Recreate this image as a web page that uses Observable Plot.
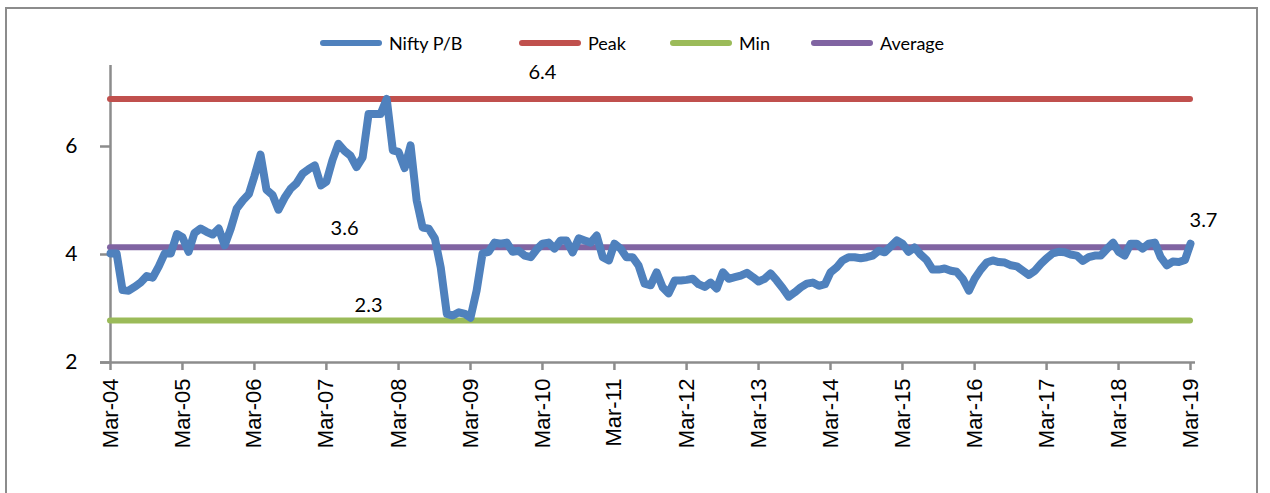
<!DOCTYPE html>
<html>
<head>
<meta charset="utf-8">
<script src="https://cdn.jsdelivr.net/npm/d3@7"></script>
<script src="https://cdn.jsdelivr.net/npm/@observablehq/plot@0.6"></script>
<style>
  html, body { margin: 0; padding: 0; background: #fff; overflow: hidden; }
  #wrap { position: relative; width: 1270px; height: 493px; }
  #frame { position: absolute; left: 5px; top: 7px; width: 1253px; height: 520px; border: 2px solid #8c8c8c; box-sizing: border-box; }
  #chart { position: absolute; left: 0; top: 0; }
  #legend { position: absolute; top: 31px; left: 0; width: 1270px; height: 24px; font-family: Lato, "Open Sans", sans-serif; font-size: 18px; color: #000; }
  .item { position: absolute; top: 0; display: flex; align-items: center; height: 24px; }
  .swatch { display: inline-block; width: 62px; height: 6px; border-radius: 3px; margin-right: 7px; }
</style>
</head>
<body>
<div id="wrap">
  <div id="frame"></div>
  <div id="chart"></div>
  <div id="legend"></div>
</div>
<script>
// ---- Data ----
const startYear = 2004, startMonth = 2; // March 2004, monthly points
const niftyPB = [
  4.02, 4.02, 3.34, 3.33, 3.40, 3.48, 3.60, 3.57, 3.78, 4.02,
  4.02, 4.38, 4.32, 4.05, 4.40, 4.48, 4.42, 4.37, 4.48, 4.17,
  4.48, 4.85, 5.00, 5.12, 5.45, 5.85, 5.20, 5.10, 4.83, 5.05,
  5.22, 5.32, 5.50, 5.58, 5.65, 5.28, 5.35, 5.75, 6.05, 5.92,
  5.83, 5.62, 5.80, 6.60, 6.60, 6.60, 6.88, 5.93, 5.90, 5.60,
  6.02, 5.00, 4.50, 4.48, 4.30, 3.76, 2.90, 2.87, 2.93, 2.90,
  2.83, 3.33, 4.02, 4.05, 4.22, 4.20, 4.22, 4.05, 4.07, 3.98,
  3.95, 4.10, 4.20, 4.22, 4.11, 4.26, 4.26, 4.04, 4.30, 4.26,
  4.22, 4.35, 3.95, 3.89, 4.20, 4.11, 3.95, 3.95, 3.80, 3.46,
  3.43, 3.67, 3.39, 3.28, 3.52, 3.52, 3.53, 3.55, 3.45, 3.40,
  3.48, 3.37, 3.67, 3.55, 3.58, 3.61, 3.66, 3.58, 3.50, 3.55,
  3.65, 3.52, 3.38, 3.22, 3.30, 3.39, 3.46, 3.48, 3.42, 3.45,
  3.67, 3.76, 3.89, 3.95, 3.95, 3.93, 3.95, 3.98, 4.07, 4.04,
  4.15, 4.26, 4.20, 4.05, 4.13, 4.00, 3.90, 3.72, 3.72, 3.74,
  3.70, 3.68, 3.55, 3.33, 3.55, 3.72, 3.85, 3.89, 3.86, 3.85,
  3.80, 3.78, 3.70, 3.62, 3.70, 3.83, 3.93, 4.02, 4.05, 4.04,
  4.00, 3.98, 3.88, 3.95, 3.98, 3.98, 4.10, 4.22, 4.05, 3.98,
  4.20, 4.20, 4.11, 4.20, 4.22, 3.95, 3.80, 3.87, 3.86, 3.90,
  4.20
];
const peakValue = [6.88];
const minValue = [2.78];
const averageValue = [4.135];
const seriesNames = ["Nifty P/B", "Peak", "Min", "Average"];
const seriesColors = ["#4F81BD", "#C0504D", "#9BBB59", "#8064A2"];
const xTickLabels = ["Mar-04","Mar-05","Mar-06","Mar-07","Mar-08","Mar-09","Mar-10","Mar-11",
                     "Mar-12","Mar-13","Mar-14","Mar-15","Mar-16","Mar-17","Mar-18","Mar-19"];
const yTicks = [2, 4, 6];
const yTickLabels = ["2", "4", "6"];
const labelTexts = ["6.4", "3.6", "2.3", "3.7"];
const labelMonthIndex = [72, 39, 43, 180];   // month index where each data label sits

// ---- Build tables ----
const monthDate = i => new Date(Date.UTC(startYear, startMonth + i, 1));
const series = niftyPB.map((v, i) => ({date: monthDate(i), value: v}));
const d0 = series[0].date, dEnd = series[series.length - 1].date;
const xTicks = xTickLabels.map((_, k) => new Date(Date.UTC(startYear + k, startMonth, 1)));
const hLines = [
  {y: peakValue[0], color: seriesColors[1]},
  {y: minValue[0], color: seriesColors[2]},
  {y: averageValue[0], color: seriesColors[3]}
];
const labelY = [peakValue[0], averageValue[0], minValue[0], niftyPB[niftyPB.length - 1]];
const labels = labelTexts.map((t, k) => ({text: t, date: monthDate(labelMonthIndex[k]), y: labelY[k]}));
const dyOffsets = [-26, -19, -15, -23];
const dxOffsets = [0, 0, 0, 13];

const axisGray = "#8c8c8c";
const calib = "Lato, 'Open Sans', sans-serif";

const chart = Plot.plot({
  width: 1270,
  height: 493,
  marginLeft: 110,
  marginRight: 80,
  marginTop: 65,
  marginBottom: 131,
  style: {background: "transparent", overflow: "visible"},
  x: {type: "utc", domain: [d0, dEnd]},
  y: {domain: [2, 7.5]},
  marks: [
    // axis lines
    Plot.ruleX([d0], {stroke: axisGray, strokeWidth: 2.5}),
    Plot.ruleY([2], {stroke: axisGray, strokeWidth: 2.5, insetLeft: -10, insetRight: -5}),
    Plot.axisY({ticks: yTicks, tickFormat: (d, i) => yTickLabels[i], tickSize: 10, tickPadding: 23,
                stroke: axisGray, strokeWidth: 2.5, fill: "#000", fontSize: 21, fontFamily: calib, label: null}),
    Plot.axisX({ticks: xTicks, tickFormat: (d, i) => xTickLabels[i], tickSize: 8, tickPadding: 8,
                tickRotate: -90, stroke: axisGray, strokeWidth: 2.5, fill: "#000",
                fontSize: 22, fontFamily: "'Liberation Sans', Arial, sans-serif", label: null}),
    // reference lines
    Plot.ruleY(hLines, {y: "y", x1: () => d0, x2: () => dEnd, stroke: "color", strokeWidth: 6, strokeLinecap: "round"}),
    // main series
    Plot.line(series, {x: "date", y: "value", stroke: seriesColors[0], strokeWidth: 8,
                       strokeLinejoin: "round", strokeLinecap: "round"}),
    // data labels
    ...labels.map((l, k) => Plot.text([l], {x: "date", y: "y", text: "text",
        dx: dxOffsets[k], dy: dyOffsets[k], fontSize: 20, fontFamily: calib, fill: "#000"}))
  ]
});
document.getElementById("chart").appendChild(chart);

// ---- Legend ----
const legendLeft = [320, 519, 670, 811];
const legend = document.getElementById("legend");
seriesNames.forEach((name, k) => {
  const item = document.createElement("div");
  item.className = "item";
  item.style.left = legendLeft[k] + "px";
  const sw = document.createElement("span");
  sw.className = "swatch";
  sw.style.background = seriesColors[k];
  const tx = document.createElement("span");
  tx.textContent = name;
  item.appendChild(sw);
  item.appendChild(tx);
  legend.appendChild(item);
});
</script>
</body>
</html>
